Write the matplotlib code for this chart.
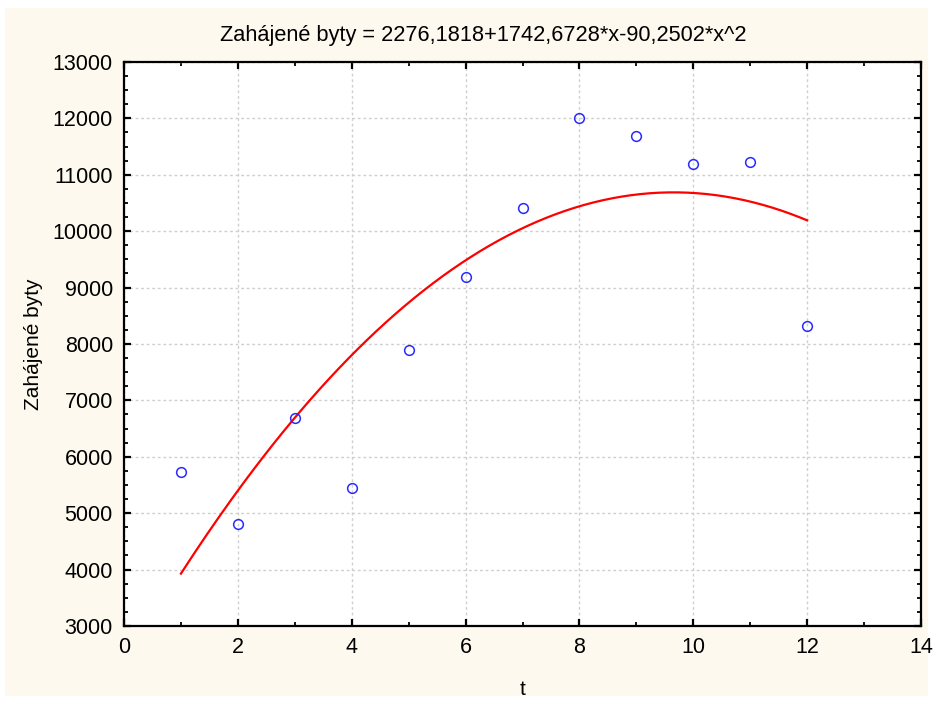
import matplotlib
matplotlib.use("Agg")
import matplotlib.pyplot as plt
from matplotlib.patches import Rectangle
from matplotlib.ticker import MultipleLocator
import numpy as np

plt.rcParams['font.family'] = ['Liberation Sans', 'DejaVu Sans']

# Observed housing starts by period
t = [1, 2, 3, 4, 5, 6, 7, 8, 9, 10, 11, 12]
byty = [5730, 4810, 6690, 5440, 7890, 9180, 10410, 12000, 11690, 11190, 11220, 8320]

# Quadratic trend coefficients: b0 + b1*x + b2*x^2
coef = [2276.1818, 1742.6728, -90.2502]
title = "Zahájené byty = 2276,1818+1742,6728*x-90,2502*x^2"

fig = plt.figure(figsize=(9.33, 7.01), dpi=100, facecolor='white')
fig.patches.append(Rectangle((5 / 933, 5 / 701), 923 / 933, 688 / 701,
                             transform=fig.transFigure, facecolor='#fdf9ee',
                             edgecolor='none', zorder=-10))

ax = fig.add_axes([124 / 933, 1 - 626 / 701, (921 - 124) / 933, (626 - 62) / 701])
ax.set_zorder(5)
ax.set_facecolor('white')

xs = np.linspace(t[0], t[-1], 200)
ys = coef[0] + coef[1] * xs + coef[2] * xs ** 2
ax.plot(xs, ys, color='#ff0000', lw=1.6, zorder=3)
ax.plot(t, byty, linestyle='none', marker='o', markersize=7,
        markerfacecolor='none', markeredgecolor='#2a2aff', markeredgewidth=1.1, zorder=4)

ax.set_xlim(0, 14)
ax.set_ylim(3000, 13000)
ax.xaxis.set_major_locator(MultipleLocator(2))
ax.xaxis.set_minor_locator(MultipleLocator(1))
ax.yaxis.set_major_locator(MultipleLocator(1000))
ax.yaxis.set_minor_locator(MultipleLocator(250))

ax.grid(True, which='major', color='#cfcfcf', linestyle=(0, (2, 2)), linewidth=1.0)
ax.set_axisbelow(True)

for s in ax.spines.values():
    s.set_linewidth(1.6)
    s.set_color('black')

ax.tick_params(which='both', direction='in', top=True, right=True,
               color='black', labelsize=15.5, pad=8)
ax.tick_params(which='major', length=5, width=1.6)
ax.tick_params(which='minor', length=3, width=1.3)

fig.text(483 / 933, 1 - 36 / 701, title, fontsize=15.7, ha='center', va='center')
ax.set_xlabel('t', fontsize=15, labelpad=16)
ax.set_ylabel('Zahájené byty', fontsize=15, labelpad=7)

fig.savefig('out.png', dpi=100, facecolor=fig.get_facecolor())
